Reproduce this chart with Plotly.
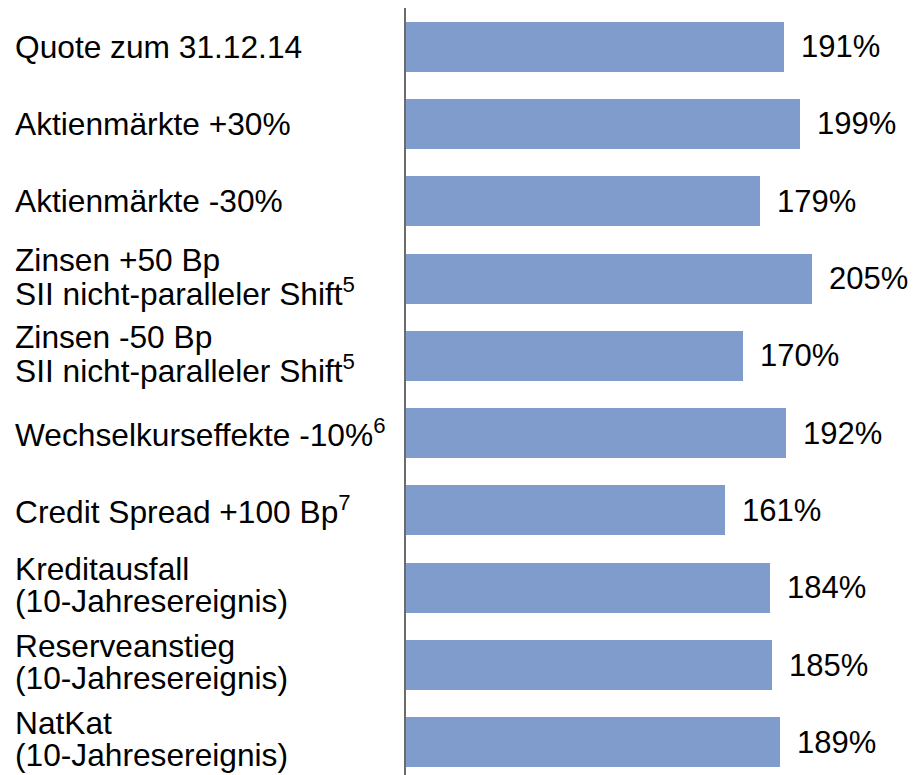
import plotly.graph_objects as go

# ---- data ----
categories = [
    "Quote zum 31.12.14",
    "Aktienmärkte +30%",
    "Aktienmärkte -30%",
    "Zinsen +50 Bp<br>SII nicht-paralleler Shift<sup>5</sup>",
    "Zinsen -50 Bp<br>SII nicht-paralleler Shift<sup>5</sup>",
    "Wechselkurseffekte -10%<sup>6</sup>",
    "Credit Spread +100 Bp<sup>7</sup>",
    "Kreditausfall<br>(10-Jahresereignis)",
    "Reserveanstieg<br>(10-Jahresereignis)",
    "NatKat<br>(10-Jahresereignis)",
]
values = [191, 199, 179, 205, 170, 192, 161, 184, 185, 189]
value_labels = ["191%", "199%", "179%", "205%", "170%", "192%", "161%", "184%", "185%", "189%"]

# ---- style ----
BAR_COLOR = "#7F9CCC"
FONT = "Liberation Sans, Arial, sans-serif"
FS_CAT = 31.7
FS_VAL = 31
W, H = 913, 775
ML = 406
MT = 8
PLOT_W = W - ML
PX_PER_UNIT = 1.98
ROW_PX = 77.3
LINE_PITCH = 32
TWO_LINE_OFFSET = -3     # px, positive = down

ypos = list(range(len(categories)))

fig = go.Figure()
fig.add_trace(go.Bar(
    x=values,
    y=ypos,
    orientation="h",
    marker=dict(color=BAR_COLOR, line=dict(width=0)),
    width=50 / ROW_PX,
    hoverinfo="skip",
))

annotations = []
for i, (cat, v, lab) in enumerate(zip(categories, values, value_labels)):
    annotations.append(dict(
        x=v, y=i, xref="x", yref="y", text=lab, showarrow=False,
        xanchor="left", yanchor="middle", xshift=15,
        font=dict(family=FONT, size=FS_VAL, color="#000000"),
    ))
    lines = cat.split("<br>")
    n = len(lines)
    for k, line in enumerate(lines):
        if n == 1:
            dy = 0
        else:
            dy = (k - (n - 1) / 2) * LINE_PITCH + TWO_LINE_OFFSET
        annotations.append(dict(
            x=0, y=i, xref="paper", yref="y", text=line, showarrow=False,
            xanchor="left", yanchor="middle", xshift=13 - ML, yshift=-dy,
            align="left",
            font=dict(family=FONT, size=FS_CAT, color="#000000"),
        ))

span = (H - MT) / ROW_PX
fig.update_layout(
    width=W, height=H,
    margin=dict(l=ML, r=0, t=MT, b=0, pad=0),
    plot_bgcolor="white", paper_bgcolor="white",
    showlegend=False,
    bargap=0,
    xaxis=dict(range=[0, PLOT_W / PX_PER_UNIT], visible=False, fixedrange=True),
    yaxis=dict(range=[-0.5 + span, -0.5], showline=True, linecolor="#6b6b6b",
               linewidth=2, showticklabels=False, ticks="", showgrid=False,
               zeroline=False, fixedrange=True),
    annotations=annotations,
)

fig.write_html("out.html", config={"displayModeBar": False},
               post_script="document.body.style.margin='0';document.body.style.overflow='hidden';")
